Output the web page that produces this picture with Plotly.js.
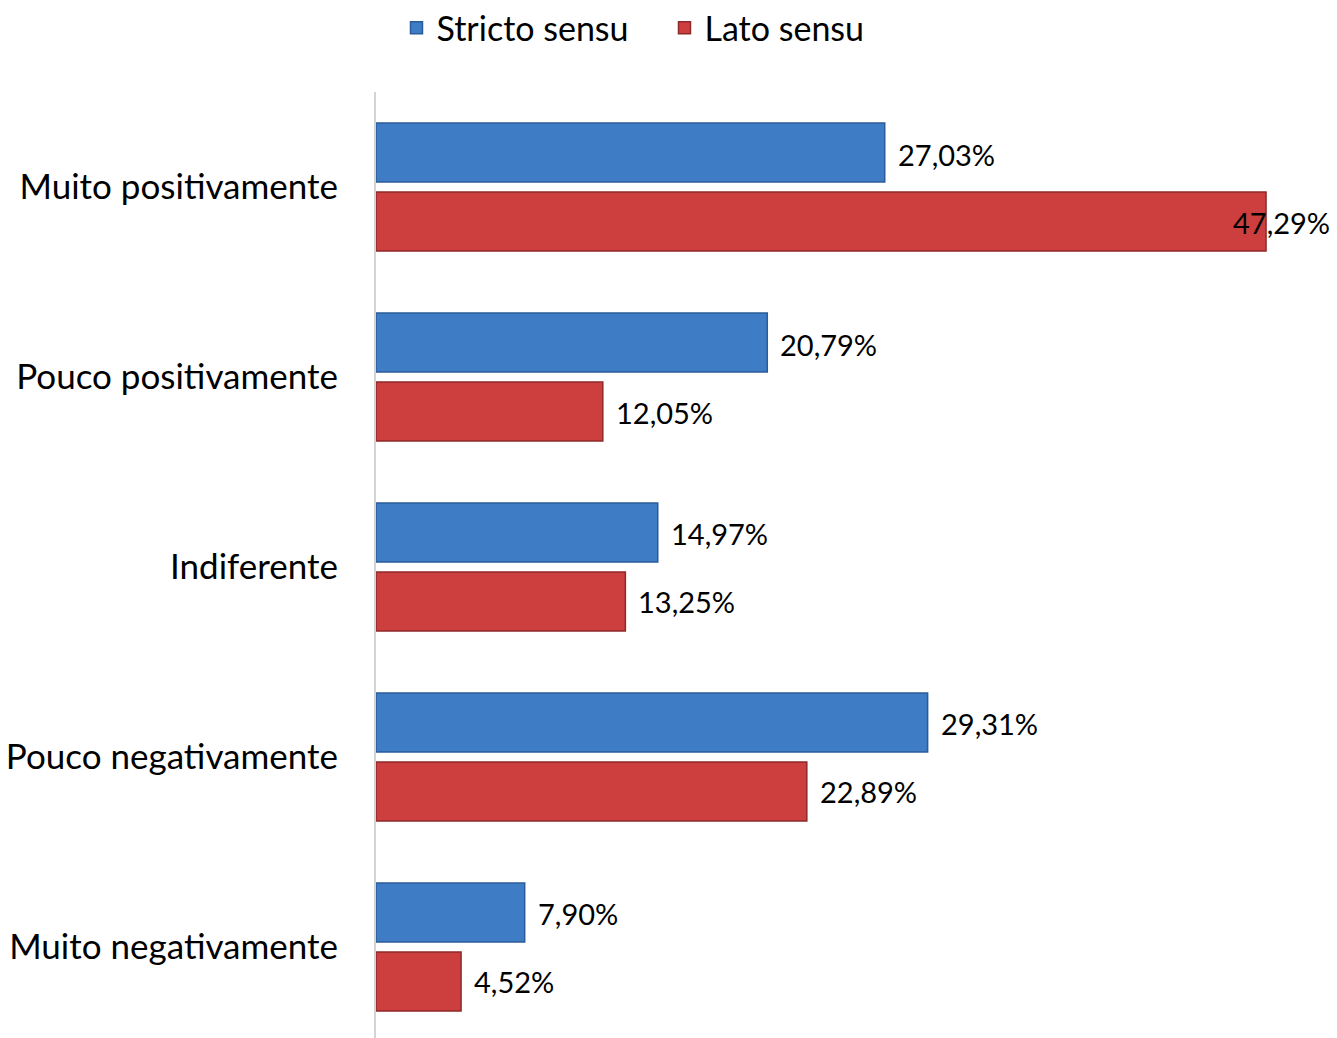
<!DOCTYPE html>
<html>
<head>
<meta charset="utf-8">
<script src="https://cdn.plot.ly/plotly-3.0.1.min.js"></script>
<style>html,body{margin:0;padding:0;background:#fff;}#chart{width:1337px;height:1038px;}</style>
</head>
<body>
<div id="chart"></div>
<script>
const categories = ["Muito positivamente", "Pouco positivamente", "Indiferente", "Pouco negativamente", "Muito negativamente"];
const strictoValues = [27.03, 20.79, 14.97, 29.31, 7.90];
const latoValues = [47.29, 12.05, 13.25, 22.89, 4.52];
const seriesNames = ["Stricto sensu", "Lato sensu"];

const FONT = "Lato, 'Open Sans', sans-serif";
const fmt = v => v.toFixed(2).replace('.', ',') + '%';

const traces = [
  {
    type: 'bar', orientation: 'h', name: seriesNames[0],
    y: categories, x: strictoValues,
    marker: {color: '#3E7CC6', line: {color: '#2B5C99', width: 1.5}},
    hoverinfo: 'skip'
  },
  {
    type: 'bar', orientation: 'h', name: seriesNames[1],
    y: categories, x: latoValues,
    marker: {color: '#CD3F3E', line: {color: '#8E2A2A', width: 1.5}},
    hoverinfo: 'skip'
  }
];

const annotations = [];
[strictoValues, latoValues].forEach((vals, s) => {
  vals.forEach((v, i) => {
    const wide = v > 45;
    annotations.push({
      x: v, y: categories[i], xref: 'x', yref: 'y',
      text: fmt(v), showarrow: false,
      xanchor: wide ? 'center' : 'left',
      xshift: wide ? 15 : 11,
      yshift: s === 0 ? 33 : -35,
      font: {family: FONT, size: 29, color: '#000'}
    });
  });
});

const layout = {
  width: 1337, height: 1038,
  margin: {l: 376, r: 0, t: 92, b: 0, pad: 0},
  paper_bgcolor: '#fff', plot_bgcolor: '#fff',
  barmode: 'group', bargap: 0.274, bargroupgap: 0.145,
  font: {family: FONT, color: '#000'},
  showlegend: true,
  legend: {
    orientation: 'h', xref: 'container', yref: 'container',
    x: 0.497, xanchor: 'center', y: 0.973, yanchor: 'middle',
    font: {family: FONT, size: 34, color: '#000'},
    traceorder: 'normal', itemwidth: 30,
    entrywidth: 223, entrywidthmode: 'pixels'
  },
  xaxis: {
    range: [0, 51.06], showgrid: false, zeroline: false,
    showticklabels: false, showline: false, fixedrange: true
  },
  yaxis: {
    type: 'category', range: [4.479, -0.5],
    showgrid: false, zeroline: false,
    showline: true, linecolor: '#D4D4D4', linewidth: 2,
    ticks: '', ticklabelstandoff: 29,
    tickfont: {family: FONT, size: 35, color: '#000'},
    fixedrange: true
  },
  annotations: annotations
};

Plotly.newPlot('chart', traces, layout, {displayModeBar: false, staticPlot: true});
</script>
</body>
</html>
